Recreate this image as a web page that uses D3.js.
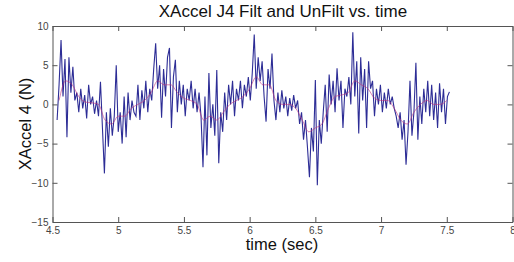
<!DOCTYPE html>
<html>
<head>
	<meta http-equiv="Content-Type" content="text/html; charset=utf-8" />
	<title>XAccel J4 Filt and UnFilt vs. time</title>
	<style>
		body { margin: 0; background: #fff; }
		svg { display: block; }
		text { font-family: "Liberation Sans", Arial, sans-serif; }
	</style>
</head>
<body>
	<div id="chart"></div>
	<script type="text/javascript" src="https://cdn.jsdelivr.net/npm/d3@7/dist/d3.min.js"></script>
	<script type="text/javascript">
		// raw signal, sampled every 0.015 s starting at 4.535 s
		var rawStart = 4.535;
		var rawStep = 0.015;
		var rawValues = [
			-2.0, 2.5, 8.2, 1.0, 5.8, -4.2, 6.0, 1.5, 4.8, 0.5,
			1.5, -1.0, 2.0, -0.5, 1.2, -1.8, 2.5, 0.0, 1.0, -1.2,
			0.5, -1.5, 2.9, -3.0, -8.8, -1.0, -5.4, -0.5, -4.0, -1.5,
			5.0, -3.5, -1.0, -5.0, 1.0, -4.2, 1.5, -2.0, 0.5, -1.0,
			-1.5, 2.5, -2.0, 1.8, -0.5, 3.0, -1.0, 2.0, 0.5, 4.5,
			7.8, 2.0, 5.0, -1.7, 4.5, 1.0, 6.0, 7.2, -3.0, 3.5,
			5.7, -1.0, 3.0, 0.0, 2.5, -1.5, 2.0, 0.5, 3.0, -0.5,
			2.0, -1.0, 1.5, -1.5, -8.0, 1.0, -6.5, 4.0, -3.0, 0.0,
			-4.0, 4.4, -7.5, -1.0, -3.5, 1.5, -2.0, 2.5, 0.0, 3.0,
			-1.5, 2.0, 0.5, 3.0, -0.5, 2.5, 1.0, 3.5, 0.5, 4.0,
			8.9, 2.0, 6.0, 3.0, 5.5, 1.0, -2.2, 4.5, 2.0, 6.5,
			0.5, -2.0, 1.5, -1.0, 1.8, -0.5, 1.0, -1.5, 0.8, -0.8,
			1.2, -0.5, 0.5, -2.5, -1.0, -4.5, -2.0, -5.5, -9.3, -3.0,
			-6.0, 3.1, -10.3, -2.0, -5.0, -1.0, 2.5, -3.5, 3.8, 0.0,
			3.0, -1.0, 4.6, 0.5, 3.0, -3.0, 2.0, 1.0, 3.5, 0.0,
			9.2, 1.0, 5.5, -3.7, 6.0, 0.5, 4.5, -3.0, 5.5, 2.0,
			3.0, -1.5, 2.0, 0.0, 2.5, -1.0, 1.5, -0.5, 2.0, 0.0,
			1.0, -0.5, -1.5, -3.0, -1.0, -4.5, -2.0, -7.7, -3.5, 3.0,
			-4.0, -1.0, 5.3, -4.5, 1.0, -2.5, 2.0, -1.0, 3.0, -1.5,
			2.5, -2.0, 1.5, -3.0, 2.7, -1.0, 2.0, -2.5, 1.0, 1.6
		];

		// filtered signal, every 0.05 s starting at 4.55 s
		var filtStart = 4.55;
		var filtStep = 0.05;
		var filtValues = [
			0.5, 3.0, 2.5, 1.0, 0.3, 0.2, 0.0, -2.0, -2.5, -1.5,
			-1.5, -0.5, 0.0, 0.5, 1.5, 3.0, 2.5, 2.5, 1.5, 0.8,
			0.5, 0.0, -2.0, -1.5, -2.0, -1.0, 0.0, 0.5, 1.0, 2.0,
			3.5, 2.5, 2.5, 0.5, 0.0, 0.0, -0.5, -2.0, -3.5, -3.0,
			-2.5, -0.5, 1.0, 1.2, 1.5, 3.0, 2.5, 2.0, 0.8, 0.5,
			0.5, -0.5, -2.0, -2.5, -1.0, 0.0, 0.5, 0.0, 0.0, 0.5
		];

		var xTicks = [4.5, 5, 5.5, 6, 6.5, 7, 7.5, 8];
		var yTicks = [10, 5, 0, -5, -10, -15];

		var titleText = "XAccel J4 Filt and UnFilt vs. time";
		var xLabel = "time (sec)";
		var yLabel = "XAccel 4 (N)";

		var width = 514, height = 262;
		var plotLeft = 52.5, plotRight = 512.5, plotTop = 26, plotBottom = 222;

		var svg = d3.select("#chart").append("svg")
			.attr("width", width)
			.attr("height", height);

		var x = d3.scaleLinear().domain([4.5, 8]).range([plotLeft, plotRight]);
		var y = d3.scaleLinear().domain([-15, 10]).range([plotBottom, plotTop]);

		var raw = rawValues.map(function(v, i) { return [rawStart + i * rawStep, v]; });
		var filt = filtValues.map(function(v, i) { return [filtStart + i * filtStep, v]; });

		var line = d3.line()
			.x(function(d) { return x(d[0]); })
			.y(function(d) { return y(d[1]); });

		svg.append("path")
			.datum(raw)
			.attr("fill", "none")
			.attr("stroke", "#2d2d96")
			.attr("stroke-width", 1.1)
			.attr("d", line);

		svg.append("path")
			.datum(filt)
			.attr("fill", "none")
			.attr("stroke", "#c0307a")
			.attr("stroke-opacity", 0.6)
			.attr("stroke-width", 1)
			.attr("d", line.curve(d3.curveMonotoneX));

		// axes: bottom/left with labels, top/right ticks only (box on)
		var axisColor = "#555";
		var tickLen = 5;

		var bottomAxis = svg.append("g")
			.attr("transform", "translate(0," + plotBottom + ")")
			.call(d3.axisBottom(x).tickValues(xTicks).tickSizeInner(-tickLen).tickSizeOuter(0)
				.tickFormat(d3.format("")));
		var leftAxis = svg.append("g")
			.attr("transform", "translate(" + plotLeft + ",0)")
			.call(d3.axisLeft(y).tickValues(yTicks).tickSizeInner(-tickLen).tickSizeOuter(0));
		var topAxis = svg.append("g")
			.attr("transform", "translate(0," + plotTop + ")")
			.call(d3.axisTop(x).tickValues(xTicks).tickSizeInner(-tickLen).tickSizeOuter(0).tickFormat(""));
		var rightAxis = svg.append("g")
			.attr("transform", "translate(" + plotRight + ",0)")
			.call(d3.axisRight(y).tickValues(yTicks).tickSizeInner(-tickLen).tickSizeOuter(0).tickFormat(""));

		[bottomAxis, leftAxis, topAxis, rightAxis].forEach(function(g) {
			g.select(".domain").attr("stroke", axisColor);
			g.selectAll(".tick line").attr("stroke", axisColor);
			g.selectAll(".tick text")
				.attr("fill", "#444")
				.style("font-family", "'Liberation Sans', Arial, sans-serif")
				.style("font-size", "10px");
		});
		bottomAxis.selectAll(".tick text").attr("y", 5).attr("dy", "0.71em");
		leftAxis.selectAll(".tick text").attr("x", -4);

		svg.append("text")
			.attr("x", 283)
			.attr("y", 17)
			.attr("text-anchor", "middle")
			.attr("fill", "#111")
			.style("font-size", "17px")
			.text(titleText);

		svg.append("text")
			.attr("x", 282)
			.attr("y", 250)
			.attr("text-anchor", "middle")
			.attr("fill", "#111")
			.style("font-size", "16.5px")
			.text(xLabel);

		svg.append("text")
			.attr("transform", "translate(31," + ((plotTop + plotBottom) / 2) + ") rotate(-90)")
			.attr("text-anchor", "middle")
			.attr("fill", "#111")
			.style("font-size", "16.5px")
			.text(yLabel);
	</script>
</body>
</html>
